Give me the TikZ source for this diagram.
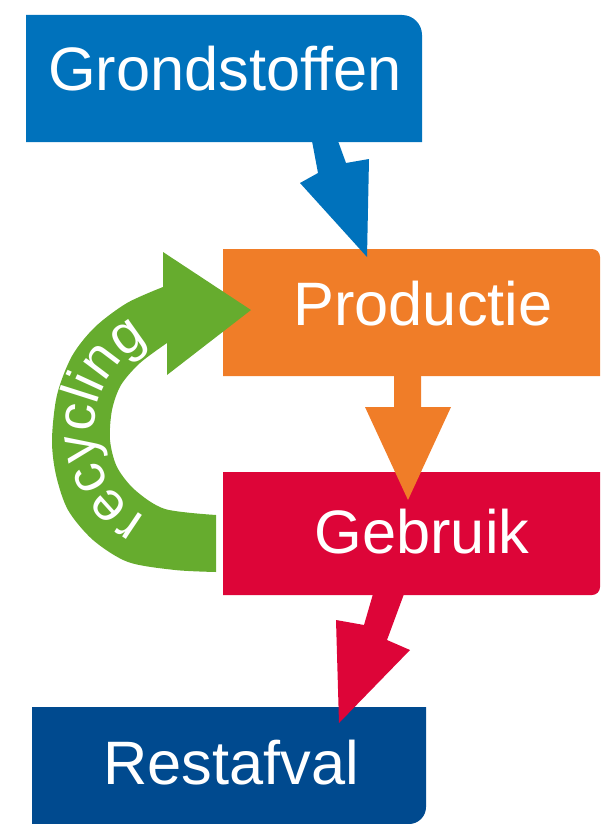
\documentclass[tikz,border=0pt]{standalone}
\usepackage{fontspec}
\usetikzlibrary{decorations.text}
\newfontfamily\labelfont{Liberation Sans}
\definecolor{gblue}{RGB}{0,114,188}
\definecolor{porange}{RGB}{240,125,40}
\definecolor{ured}{RGB}{221,5,56}
\definecolor{rblue}{RGB}{0,74,143}
\definecolor{rgreen}{RGB}{102,172,46}
\tikzset{
  lbl/.style={text=white, inner sep=0pt, anchor=base, font=\labelfont\fontsize{46}{46}\selectfont},
}
\begin{document}
\begin{tikzpicture}[x=0.75pt,y=0.75pt]
\useasboundingbox (0,0) rectangle (600,-824);
% boxes
\fill[gblue] (26,-15) -- (402,-15) arc[start angle=90,end angle=0,radius=20] -- (422,-142) -- (26,-142) -- cycle;
\fill[porange] (223,-249) -- (592,-249) arc[start angle=90,end angle=0,radius=8] -- (600,-376) -- (223,-376) -- cycle;
\fill[ured] (223,-472) -- (600,-472) -- (600,-587) arc[start angle=0,end angle=-90,radius=8] -- (223,-595) -- cycle;
\fill[rblue] (32,-707) -- (426,-707) -- (426,-807) arc[start angle=0,end angle=-90,radius=17] -- (32,-824) -- cycle;
% labels
\node[lbl] (grond) at (225,-90) {Grondstoffen};
\node[lbl] (prod) at (423,-325) {Productie};
\node[lbl] (gebr) at (422,-553) {Gebruik};
\node[lbl] (rest) at (231,-784) {Restafval};
% blue arrow
\fill[gblue] (312,-141) -- (318,-173) -- (300,-183) -- (367,-257) -- (369,-159) -- (346,-163) -- (338,-141) -- cycle;
% orange arrow
\fill[porange] (394,-375) -- (394,-407) -- (365,-407) -- (408,-500) -- (451,-407) -- (421,-407) -- (421,-375) -- cycle;
% red arrow
\fill[ured] (373,-594) -- (364,-625) -- (336,-620) -- (339,-723) -- (410,-650) -- (387,-640) -- (404,-594) -- cycle;
% green recycling arrow
\fill[rgreen] plot[smooth] coordinates {(216,-572) (175,-570) (128,-562) (93,-540) (68,-510) (56,-475) (52,-440) (57,-395) (72,-356) (95,-327) (127,-303) (163,-287)}
  -- (163,-252) -- (251,-310) -- (167,-375)
  -- plot[smooth] coordinates {(167,-343) (140,-363) (121,-385) (112,-410) (110,-440) (117,-467) (135,-490) (165,-509) (216,-515)} -- cycle;
\path[decorate, decoration={text along path, text align=center, text color=white,
  text={|\labelfont\fontsize{41}{41}\selectfont|recycling}}]
  (193,-430) ++(265:99) arc[start angle=265,end angle=93,radius=99];
\end{tikzpicture}
\end{document}
